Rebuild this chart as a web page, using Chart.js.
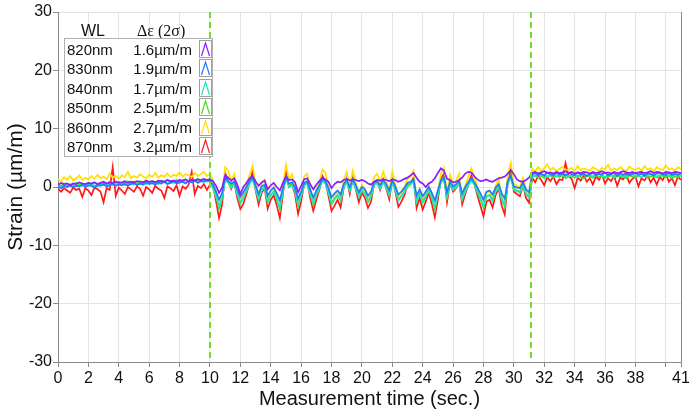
<!DOCTYPE html>
<html>
<head>
<meta charset="utf-8">
<script src="https://cdn.jsdelivr.net/npm/chart.js@4.4.1/dist/chart.umd.min.js"></script>
<style>
  body { margin: 0; background: #fff; }
  #wrap { position: relative; width: 692px; height: 413px; font-family: "Liberation Sans", Arial, sans-serif; }
  #legend div { position: absolute; white-space: nowrap; color: #111; }
  #legend .hdr { font-size: 16px; line-height: 16px; }
  #legend .serif { font-family: "Liberation Serif", "Times New Roman", serif; }
  #legend .box { left: 64px; top: 38px; width: 147px; height: 117px; border: 1px solid #b0b0b0; background: #fff; }
  #legend .row { font-size: 15px; line-height: 15px; }
  #legend svg { position: absolute; }
</style>
</head>
<body>
<div id="wrap">
  <canvas id="strain"></canvas>
  <div id="legend"></div>
</div>
<script>
// sampling every 0.2 s, 0 .. 41 s
const times = Array.from({ length: 206 }, (_, i) => Math.round(i * 2) / 10);

const wavelengths = ['820nm', '830nm', '840nm', '850nm', '860nm', '870nm'];
const spreads = ['1.6µm/m', '1.9µm/m', '1.7µm/m', '2.5µm/m', '2.7µm/m', '3.2µm/m'];
const colors = ['#8b1cff', '#1f7bff', '#22e6c0', '#45e014', '#ffe000', '#ff1a1a'];

const xTicks = [0, 2, 4, 6, 8, 10, 12, 14, 16, 18, 20, 22, 24, 26, 28, 30, 32, 34, 36, 38, 40, 41];
const xTickLabels = ['0', '2', '4', '6', '8', '10', '12', '14', '16', '18', '20', '22', '24', '26', '28', '30', '32', '34', '36', '38', '', '41'];
const yTicks = [-30, -20, -10, 0, 10, 20, 30];
const markers = [10, 31.1];

const s820 = [
  0.4,0.7,0.5,0.6,0.3,0.6,0.5,0.8,0.6,0.5,0.7,0.6,0.8,0.5,0.7,0.9,0.6,0.8,0.7,0.9,0.7,0.8,1.0,0.7,0.9,0.8,1.0,0.9,0.8,1.1,0.9,1.0,0.8,1.1,1.0,0.9,1.2,1.0,1.1,0.9,1.2,1.1,1.3,1.0,1.2,1.1,1.3,1.2,1.4,1.2,1.3,
  1.0,0.2,-1.0,-0.1,2.0,1.6,1.1,1.5,0.4,-1.2,0.0,0.7,1.5,1.9,1.0,0.2,0.8,1.1,-0.4,0.3,0.7,0.0,-0.6,0.7,1.8,1.2,1.3,0.8,-0.9,0.2,1.3,1.5,0.5,-0.4,0.4,1.0,1.6,
  1.3,0.9,-0.2,0.5,0.9,0.8,1.2,1.4,1.1,1.3,1.2,1.0,1.2,1.0,0.6,0.4,0.9,1.2,1.1,1.3,1.2,1.0,1.3,1.2,0.9,1.1,1.4,1.6,2.0,2.4,1.6,0.9,0.6,0.0,0.6,0.9,1.5,2.4,3.2,2.8,1.4,1.2,0.8,0.9,1.2,1.6,2.3,2.6,2.5,1.8,1.3,1.0,1.1,1.3,1.0,0.9,1.2,1.5,1.6,1.8,2.3,2.9,2.2,1.3,1.0,0.9,1.2,1.6,
  2.4,2.6,2.3,2.5,2.7,2.4,2.5,2.3,2.6,2.4,2.5,2.7,2.4,2.6,2.3,2.5,2.4,2.6,2.5,2.3,2.6,2.4,2.5,2.7,2.4,2.5,2.3,2.6,2.4,2.5,2.7,2.5,2.4,2.6,2.3,2.5,2.6,2.4,2.5,2.7,2.4,2.6,2.5,2.3,2.6,2.5,2.4,2.6,2.5,2.4
];
const s830 = [
  0.1,-0.2,0.2,0.0,0.3,-0.1,0.2,0.1,0.4,0.0,0.3,0.2,-0.1,0.4,0.2,0.5,0.1,0.3,0.6,0.2,0.4,0.3,0.6,0.2,0.5,0.7,0.3,0.6,0.4,0.8,0.5,0.7,0.4,0.8,0.6,0.9,0.5,0.7,1.0,0.6,0.8,0.9,0.6,1.0,0.8,1.1,0.7,1.0,0.9,1.2,1.0,
  0.4,-0.8,-2.2,-1.0,1.6,1.0,0.6,0.9,-0.5,-1.7,-0.9,0.0,1.0,1.6,0.3,-1.2,0.1,0.4,-1.5,-0.6,-0.1,-1.1,-2.3,-0.2,1.7,0.6,0.8,-0.1,-2.0,-0.8,
  0.7,1.0,-0.4,-1.8,-0.6,0.3,1.4,1.0,-0.2,-1.8,-1.1,-0.6,-1.3,0.5,1.2,0.0,1.3,0.3,-0.9,0.0,-0.4,-1.5,-0.8,0.8,1.0,0.3,1.2,0.5,-0.6,1.1,
  0.1,-1.3,-0.8,-0.2,0.7,0.9,1.3,-1.5,-0.4,-1.6,-0.8,0.0,-1.0,-2.3,-0.6,1.2,1.6,-0.9,0.9,0.1,0.5,1.0,-1.1,0.0,0.8,1.5,0.8,-0.1,-1.1,-2.2,
  -0.8,-0.6,-1.3,-0.1,0.5,-1.1,-2.0,1.0,1.9,0.1,-0.1,-0.2,0.8,-0.4,-0.9,
  2.1,2.4,2.0,2.3,1.9,2.5,2.2,2.0,2.4,2.1,2.3,1.9,2.4,2.2,2.0,2.5,2.1,2.3,1.9,2.2,2.4,2.0,2.3,2.1,2.5,2.0,2.2,2.4,1.9,2.3,2.1,2.4,2.0,2.2,2.5,2.1,2.3,1.9,2.4,2.2,2.0,2.3,2.5,2.1,2.2,2.4,2.0,2.3,2.1,2.4
];
const s840 = [
  0.2,0.0,0.3,0.1,0.2,0.4,0.1,0.3,0.2,0.5,0.2,0.4,0.3,0.1,0.5,0.3,0.4,0.6,0.3,0.5,0.4,0.6,0.3,0.5,0.7,0.4,0.6,0.5,0.8,0.5,0.7,0.6,0.8,0.5,0.7,0.9,0.6,0.8,0.7,1.0,0.7,0.9,0.8,1.0,0.8,1.1,0.9,1.0,1.2,0.9,1.1,
  -0.3,-1.6,-3.4,-1.9,1.2,0.7,-0.1,0.5,-1.2,-2.7,-1.8,-0.7,0.5,1.3,-0.3,-2.1,-0.6,-0.2,-2.5,-1.4,-0.9,-2.0,-3.5,-0.8,1.4,0.0,0.3,-0.7,-3.1,-1.6,
  0.2,0.6,-1.2,-2.8,-1.4,-0.3,1.0,0.6,-1.0,-2.8,-2.0,-1.4,-2.3,-0.1,0.8,-0.7,0.9,-0.3,-1.7,-0.6,-1.2,-2.5,-1.6,0.4,0.6,-0.3,0.8,-0.1,-1.4,0.7,
  -0.5,-2.3,-1.6,-0.9,0.1,0.4,0.9,-2.5,-1.2,-2.6,-1.6,-0.6,-1.8,-3.5,-1.4,0.8,1.2,-1.7,0.5,-0.5,-0.1,0.6,-2.1,-0.7,0.2,1.1,0.4,-0.9,-2.0,-3.3,
  -1.6,-1.4,-2.3,-0.8,-0.1,-2.1,-3.1,0.6,1.6,-0.5,-0.7,-1.0,0.3,-1.2,-1.8,
  2.0,1.8,2.2,1.9,2.1,1.7,2.2,2.0,1.8,2.1,1.9,2.2,1.8,2.0,2.1,1.7,2.0,2.2,1.9,2.1,1.8,2.0,2.2,1.9,1.7,2.1,2.0,1.8,2.2,1.9,2.0,1.8,2.1,2.2,1.9,2.0,1.7,2.1,1.9,2.2,2.0,1.8,2.1,1.9,2.2,2.0,1.8,2.1,2.0,1.9
];
const s850 = [
  0.4,0.2,0.6,0.3,0.5,0.2,0.7,0.4,0.6,0.3,0.7,0.5,0.8,0.4,0.6,0.8,0.5,0.9,0.6,0.7,0.9,0.6,0.8,1.0,0.7,0.9,0.6,1.0,0.8,1.1,0.8,1.0,0.9,0.7,1.1,0.9,1.2,0.8,1.0,1.2,0.9,1.1,1.3,1.0,1.2,1.1,1.4,1.0,1.3,1.2,1.4,
  -0.1,-1.6,-3.7,-2.0,1.6,1.0,0.2,0.8,-1.1,-2.9,-1.8,-0.6,0.8,1.7,-0.1,-2.1,-0.5,0.0,-2.6,-1.4,-0.7,-2.1,-3.8,-0.7,1.8,0.3,0.5,-0.6,-3.3,-1.6,
  0.5,0.9,-1.1,-3.0,-1.3,-0.1,1.4,0.9,-0.8,-3.0,-2.1,-1.4,-2.3,0.1,1.1,-0.6,1.2,-0.1,-1.7,-0.5,-1.1,-2.6,-1.6,0.6,0.9,-0.1,1.1,0.2,-1.3,1.0,
  -0.4,-2.3,-1.6,-0.7,0.4,0.6,1.3,-2.6,-1.1,-2.7,-1.6,-0.5,-1.9,-3.8,-1.3,1.1,1.6,-1.7,0.8,-0.3,0.2,0.9,-2.1,-0.6,0.5,1.5,0.6,-0.7,-2.1,-3.6,
  -1.6,-1.4,-2.4,-0.7,0.2,-2.1,-3.4,0.9,2.1,-0.3,-0.6,-0.8,0.5,-1.1,-1.8,
  1.7,2.0,1.6,1.9,1.5,1.8,2.0,1.6,1.9,1.7,2.0,1.5,1.8,1.9,1.6,2.0,1.7,1.5,1.9,1.8,1.6,2.0,1.7,1.9,1.5,1.8,2.0,1.6,1.8,1.9,1.7,1.5,2.0,1.8,1.6,1.9,1.7,2.0,1.6,1.8,1.9,1.6,1.8,2.0,1.7,1.9,1.5,1.8,1.7,2.0
];
const s860 = [
  1.4,0.9,1.7,1.2,1.9,1.1,1.5,2.0,1.2,1.6,1.3,1.9,1.4,2.1,1.5,1.8,1.3,2.3,1.6,1.9,1.4,2.0,1.7,2.6,1.5,1.9,1.6,2.2,1.8,1.5,2.1,1.7,2.4,1.6,2.0,1.8,2.3,1.7,2.1,1.9,2.5,1.8,2.2,2.0,1.7,2.4,1.9,2.2,2.6,1.9,2.2,
  1.2,-1.0,-3.5,-1.4,3.4,2.8,1.1,2.2,-0.4,-2.5,-1.3,0.2,2.0,3.6,0.8,-1.6,0.4,1.2,-2.2,-0.7,0.1,-1.6,-3.7,0.2,3.8,1.3,2.2,0.2,-3.1,-1.0,
  1.8,2.3,-0.4,-2.7,-0.7,0.8,3.0,2.4,-0.1,-2.7,-1.6,-0.7,-1.9,1.1,2.6,0.2,2.8,0.8,-1.2,0.4,-0.4,-2.2,-1.0,1.7,2.3,0.8,2.6,1.1,-0.7,2.6,
  0.5,-1.9,-1.0,0.1,1.4,1.7,2.8,-2.2,-0.4,-2.4,-1.0,0.4,-1.3,-3.7,-0.7,2.3,3.3,-1.2,2.1,0.5,1.1,2.3,-1.6,0.2,1.7,3.2,1.7,0.1,-1.6,-3.4,
  -1.0,-0.7,-1.9,0.1,1.5,-1.6,-3.1,2.0,4.2,0.5,0.2,-0.1,1.6,-0.4,-1.3,
  3.1,2.7,3.4,2.8,3.2,3.9,2.9,3.3,2.7,3.1,3.5,2.8,3.0,3.3,2.7,3.6,2.9,3.2,3.0,2.8,3.4,3.1,2.7,3.3,3.0,3.8,2.8,3.2,2.9,3.4,3.0,2.7,3.5,3.1,2.9,3.3,2.8,3.6,3.0,3.2,2.7,3.4,3.1,2.9,3.7,3.0,3.2,2.8,3.4,3.1
];
const s870 = [
  -0.3,-0.8,-0.2,-0.6,-1.0,-0.1,-0.5,-0.3,-1.7,-0.2,-0.6,-1.4,-0.1,-0.4,-0.8,-2.6,-0.2,-0.5,3.4,-1.5,-0.1,-0.6,-1.2,0.0,-0.4,-0.8,0.1,-0.3,-1.5,0.0,-0.4,-1.0,0.2,-0.3,-0.6,-1.9,0.1,-0.2,-0.7,0.3,-1.5,0.1,-0.3,0.4,2.6,-1.2,0.2,-0.2,0.5,-0.5,0.4,
  0.3,-2.4,-5.3,-3.0,2.4,1.0,-0.3,0.9,-1.9,-3.8,-2.9,-1.2,0.7,2.6,-0.5,-3.0,-1.0,-0.2,-3.7,-2.2,-1.4,-3.2,-5.3,-1.3,2.8,0.0,0.4,-1.2,-4.6,-2.5,
  0.5,0.9,-1.9,-4.1,-2.2,-0.5,1.9,0.9,-1.5,-4.1,-3.2,-2.2,-3.5,-0.2,1.4,-1.2,1.6,-0.5,-2.6,-1.0,-1.9,-3.6,-2.5,0.5,1.0,-0.5,1.3,-0.2,-2.1,1.2,
  -0.8,-3.4,-2.5,-1.4,0.2,0.6,1.6,-3.6,-1.9,-3.9,-2.5,-1.0,-2.9,-5.2,-2.2,1.4,2.3,-2.6,0.7,-0.8,-0.2,0.9,-3.0,-1.2,0.4,2.0,0.5,-1.4,-3.2,-5.0,
  -2.5,-2.2,-3.5,-1.4,-0.2,-3.2,-4.7,0.9,3.0,-0.8,-1.2,-1.6,0.4,-1.9,-2.7,
  1.6,0.8,1.9,1.2,0.3,1.7,1.0,1.8,0.5,1.3,1.2,4.1,1.9,1.4,-0.2,1.6,1.1,2.0,0.9,1.5,0.4,1.8,1.2,2.2,0.6,1.5,1.0,1.9,0.2,1.6,1.3,2.1,0.7,1.4,1.8,0.1,1.5,1.1,2.0,0.8,1.6,0.4,1.7,1.2,2.3,0.9,1.5,0.3,1.8,1.2
];
const series = [s820, s830, s840, s850, s860, s870];

const fontFamily = '"Liberation Sans", Arial, sans-serif';

// dashed green markers and the right frame line
const markerPlugin = {
  id: 'markers',
  afterDatasetsDraw(chart) {
    const { ctx, chartArea, scales } = chart;
    ctx.save();
    ctx.strokeStyle = '#6fdf2c';
    ctx.lineWidth = 2;
    ctx.setLineDash([6, 4]);
    markers.forEach(m => {
      const px = Math.round(scales.x.getPixelForValue(m));
      ctx.beginPath();
      ctx.moveTo(px, chartArea.top);
      ctx.lineTo(px, chartArea.bottom);
      ctx.stroke();
    });
    ctx.setLineDash([]);
    ctx.strokeStyle = '#8a8a8a';
    ctx.lineWidth = 1;
    ctx.beginPath();
    ctx.moveTo(chartArea.right + 0.5, chartArea.top);
    ctx.lineTo(chartArea.right + 0.5, chartArea.bottom);
    ctx.stroke();
    ctx.restore();
  }
};

var ctx = document.getElementById('strain').getContext('2d');

new Chart(ctx, {
  type: 'line',
  data: {
    datasets: series.map((s, k) => ({
      label: wavelengths[k],
      data: times.map((t, i) => ({ x: t, y: s[i] })),
      borderColor: colors[k],
      borderWidth: 1.7,
      pointRadius: 0,
      tension: 0,
      fill: false
    }))
  },
  options: {
    responsive: true,
    maintainAspectRatio: false,
    animation: false,
    parsing: false,
    layout: { padding: { top: 12, right: 11, left: 0, bottom: 0 } },
    plugins: {
      legend: { display: false },
      tooltip: { enabled: false }
    },
    scales: {
      x: {
        type: 'linear',
        min: 0,
        max: 41,
        afterBuildTicks: s => { s.ticks = xTicks.map(v => ({ value: v })); },
        afterFit: s => { s.height = 51; },
        ticks: {
          autoSkip: false,
          maxRotation: 0,
          padding: 2,
          color: '#111',
          font: { size: 16, family: fontFamily },
          callback: (v, i) => xTickLabels[i]
        },
        grid: { color: '#e4e4e4', tickLength: 5, tickColor: '#8a8a8a' },
        border: { color: '#8a8a8a' },
        title: {
          display: true,
          text: 'Measurement time (sec.)',
          color: '#111',
          padding: { top: 0, bottom: 2 },
          font: { size: 20, family: fontFamily }
        }
      },
      y: {
        min: -30,
        max: 30,
        afterBuildTicks: s => { s.ticks = yTicks.map(v => ({ value: v })); },
        afterFit: s => { s.width = 58; },
        ticks: {
          padding: 1,
          color: '#111',
          font: { size: 16, family: fontFamily }
        },
        grid: { color: '#e4e4e4', tickLength: 5, tickColor: '#8a8a8a' },
        border: { color: '#8a8a8a' },
        title: {
          display: true,
          text: 'Strain (µm/m)',
          color: '#111',
          padding: { top: 4, bottom: 0 },
          font: { size: 21, family: fontFamily }
        }
      }
    }
  },
  plugins: [markerPlugin]
});

// legend table
const legend = document.getElementById('legend');
function addDiv(cls, text, css) {
  const d = document.createElement('div');
  d.className = cls;
  d.textContent = text;
  Object.assign(d.style, css);
  legend.appendChild(d);
  return d;
}
addDiv('hdr', 'WL', { left: '81px', top: '23px' });
addDiv('hdr serif', 'Δε (2σ)', { left: '137px', top: '23px' });
addDiv('box', '', {});
wavelengths.forEach((w, i) => {
  const cy = 50 + 19.4 * i;
  addDiv('row', w, { left: '67px', top: (cy - 8) + 'px' });
  addDiv('row', spreads[i], { left: '130px', top: (cy - 8) + 'px', width: '62px', textAlign: 'right' });
  const svgNS = 'http://www.w3.org/2000/svg';
  const svg = document.createElementNS(svgNS, 'svg');
  svg.setAttribute('width', '13');
  svg.setAttribute('height', '18');
  svg.style.left = '199px';
  svg.style.top = (cy - 10) + 'px';
  const rect = document.createElementNS(svgNS, 'rect');
  rect.setAttribute('x', '0.5'); rect.setAttribute('y', '0.5');
  rect.setAttribute('width', '12'); rect.setAttribute('height', '17');
  rect.setAttribute('fill', '#fff'); rect.setAttribute('stroke', '#a0a0a0');
  const pl = document.createElementNS(svgNS, 'polyline');
  pl.setAttribute('points', '2.5,16 6.5,3 10.5,16');
  pl.setAttribute('fill', 'none'); pl.setAttribute('stroke', colors[i]); pl.setAttribute('stroke-width', '1.2');
  svg.appendChild(rect); svg.appendChild(pl);
  legend.appendChild(svg);
});
</script>
</body>
</html>
